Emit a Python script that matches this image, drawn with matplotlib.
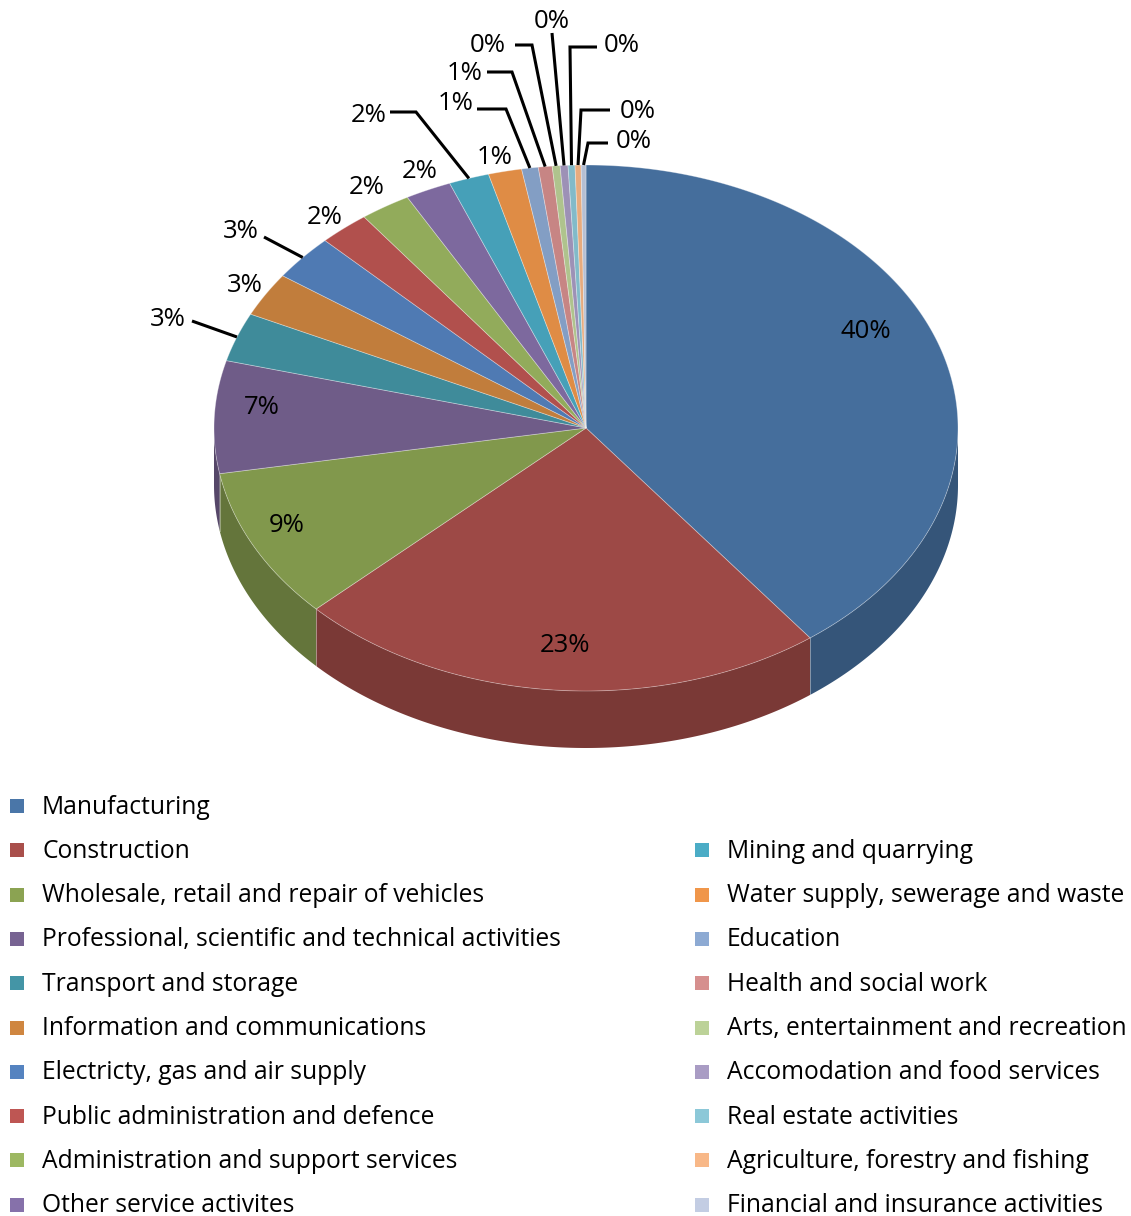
import numpy as np
import matplotlib
matplotlib.use("Agg")
import matplotlib.pyplot as plt
from matplotlib.patches import Polygon, Rectangle
from matplotlib.colors import to_rgb

# ---------------- data ----------------
categories = [
    "Manufacturing",
    "Construction",
    "Wholesale, retail and repair of vehicles",
    "Professional, scientific and technical activities",
    "Transport and storage",
    "Information and communications",
    "Electricty, gas and air supply",
    "Public administration and defence",
    "Administration and support services",
    "Other service activites",
    "Mining and quarrying",
    "Water supply, sewerage and waste",
    "Education",
    "Health and social work",
    "Arts, entertainment and recreation",
    "Accomodation and food services",
    "Real estate activities",
    "Agriculture, forestry and fishing",
    "Financial and insurance activities",
]
values = [39.7, 23.2, 9.3, 6.9, 3.0, 2.7, 2.8, 2.2, 2.2, 2.0,
          1.75, 1.45, 0.72, 0.6, 0.34, 0.34, 0.30, 0.26, 0.21]
colors = ["#4A76A8", "#A94F4B", "#8BA352", "#776392", "#4495A6", "#CF8640",
          "#5583C0", "#BE5653", "#9DB862", "#8671AA", "#4BACC6", "#F0964A",
          "#8DAAD3", "#D68F8E", "#BCD298", "#A99CC4", "#8CC8D8", "#F8B888",
          "#C3CDE3"]

# ---------------- layout (pixels) ----------------
W, H = 1131, 1216
CX, CY, RX, RY, DEPTH = 586, 428, 372, 263, 57
FONT = ["Open Sans", "DejaVu Sans"]

# label text centres, leader start and elbow (None = no leader / straight)
label_xy = [(866, 332), (565, 646), (287, 526), (262, 408), (168, 319),
            (245, 286), (241, 232), (325, 218), (367, 188), (420, 172),
            (369, 116), (495, 157), (456, 104), (465, 74), (488, 45),
            (552, 21), (622, 46), (638, 112), (634, 141)]
leader_start = [None, None, None, None, (192, 321), None, (264, 237), None,
                None, None, (390, 112), None, (477, 109), (487, 72),
                (515, 45), (552, 33), (597, 47), (610, 110), (608, 143)]
leader_elbow = [None, None, None, None, None, None, None, None, None, None,
                (416, 112), None, (506, 109), (512, 72), (532, 45), None,
                (570, 47), (581, 110), (588, 143)]

fig = plt.figure(figsize=(W / 100, H / 100), dpi=100)
ax = fig.add_axes([0, 0, 1, 1])
ax.set_xlim(0, W)
ax.set_ylim(H, 0)
ax.axis("off")

frac = np.array(values) / np.sum(values)
edges = np.concatenate([[0.0], np.cumsum(frac)])


def rim(f, dy=0.0):
    t = 2 * np.pi * np.asarray(f)
    return CX + RX * np.sin(t), CY - RY * np.cos(t) + dy


def shade(c, k):
    return tuple(np.clip(np.array(to_rgb(c)) * k, 0, 1))


# side walls (front half only: f in [0.25, 0.75])
for i in range(len(values)):
    a, b = max(edges[i], 0.25), min(edges[i + 1], 0.75)
    if b <= a:
        continue
    fs = np.linspace(a, b, 200)
    xs, ys = rim(fs)
    top = np.column_stack([xs, ys])
    bot = np.column_stack([xs, ys + DEPTH])[::-1]
    ax.add_patch(Polygon(np.vstack([top, bot]), closed=True,
                         fc=shade(colors[i], 0.72), ec="none", zorder=1))
for e in edges:
    if 0.25 < e < 0.75:
        x0, y0 = rim(e)
        ax.plot([x0, x0], [y0, y0 + DEPTH], color=(1, 1, 1, 0.35), lw=0.7, zorder=1.5)

# top faces
for i in range(len(values)):
    fs = np.linspace(edges[i], edges[i + 1], max(4, int(frac[i] * 800)))
    xs, ys = rim(fs)
    pts = np.vstack([[CX, CY], np.column_stack([xs, ys])])
    ax.add_patch(Polygon(pts, closed=True, fc=shade(colors[i], 0.93),
                         ec=(1, 1, 1, 0.35), lw=0.6, zorder=2))

# labels and leader lines
for i in range(len(values)):
    pct = f"{int(round(frac[i] * 100))}%"
    tx, ty = label_xy[i]
    ax.text(tx, ty, pct, ha="center", va="center", fontsize=18.5,
            family=FONT, color="black", zorder=5)
    if leader_start[i] is not None:
        mx, my = rim((edges[i] + edges[i + 1]) / 2)
        pts = [leader_start[i]]
        if leader_elbow[i] is not None:
            pts.append(leader_elbow[i])
        pts.append((mx, my))
        px, py = zip(*pts)
        ax.plot(px, py, color="black", lw=2.2, solid_capstyle="butt",
                solid_joinstyle="miter", zorder=4)

# legend (two columns, right one starts on the second row)
ROW0, DROW = 806, 44.3
for i, (name, c) in enumerate(zip(categories, colors)):
    if i < 10:
        sx, row = 10, i
    else:
        sx, row = 695, i - 9
    y = ROW0 + row * DROW
    ax.add_patch(Rectangle((sx, y - 7), 14, 14, fc=c, ec="none"))
    ax.text(sx + 32, y + 1, name, ha="left", va="center", fontsize=17.7,
            family=FONT, color="black")

fig.savefig("out.png", dpi=100)
